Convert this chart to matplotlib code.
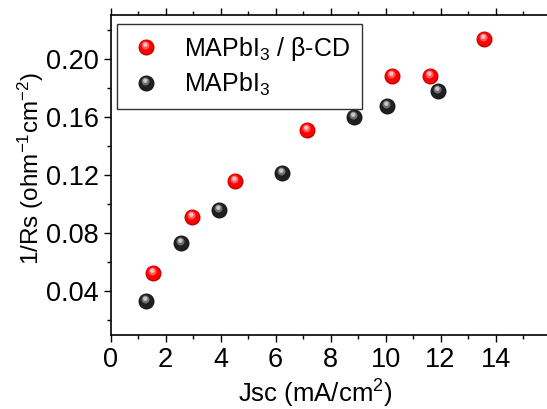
import numpy as np
import matplotlib.pyplot as plt
from matplotlib.path import Path
from matplotlib.markers import MarkerStyle
from matplotlib.legend_handler import HandlerTuple
from matplotlib.colors import to_rgb

plt.rcParams['font.family'] = ['Liberation Sans', 'DejaVu Sans']
plt.rcParams['mathtext.fontset'] = 'custom'
plt.rcParams['mathtext.rm'] = 'Liberation Sans'
plt.rcParams['mathtext.it'] = 'Liberation Sans'

# data
jsc_cd = [1.53, 2.97, 4.53, 7.15, 10.22, 11.60, 13.57]
inv_rs_cd = [0.0526, 0.0908, 0.1159, 0.1512, 0.1880, 0.1883, 0.2133]
jsc_ref = [1.27, 2.56, 3.93, 6.22, 8.86, 10.04, 11.89]
inv_rs_ref = [0.0331, 0.0729, 0.0959, 0.1214, 0.1598, 0.1671, 0.1775]

label_cd = r'MAPbI$_3$ / β-CD'
label_ref = r'MAPbI$_3$'


def circle_marker(cx, cy, r):
    # circle path with two invisible corner points so marker keeps its scale
    c = Path.circle((cx, cy), r)
    verts = np.vstack([[[-1, -1], [1, 1]], c.vertices])
    codes = np.concatenate([[Path.MOVETO, Path.MOVETO], c.codes])
    return MarkerStyle(Path(verts, codes))


def sphere_lines(x, y, color, ax, ms=11.5):
    # fake shaded sphere: stacked circles, lighter towards upper left
    base = np.array(to_rgb(color))
    layers = [
        (circle_marker(0, 0, 1.0), base * 0.75),
        (circle_marker(-0.04, 0.06, 0.88), base),
        (circle_marker(-0.12, 0.25, 0.5), base + (1 - base) * 0.35),
        (circle_marker(-0.15, 0.35, 0.28), base + (1 - base) * 0.75),
    ]
    out = []
    for m, c in layers:
        ln, = ax.plot(x, y, ls='none', marker=m, ms=ms, mfc=tuple(np.clip(c, 0, 1)),
                      mec='none')
        out.append(ln)
    return tuple(out)


fig = plt.figure(figsize=(5.47, 4.09), dpi=100)
ax = fig.add_axes([0.2024, 0.181, 0.804, 0.7824])

h_cd = sphere_lines(jsc_cd, inv_rs_cd, '#ff0000', ax)
h_ref = sphere_lines(jsc_ref, inv_rs_ref, '#202020', ax)

ax.set_xlim(0, 16)
ax.set_ylim(0.01, 0.23)
ax.set_xticks(np.arange(0, 15, 2))
ax.set_xticks(np.arange(1, 16, 2), minor=True)
ax.set_yticks([0.04, 0.08, 0.12, 0.16, 0.20])
ax.set_yticklabels(['0.04', '0.08', '0.12', '0.16', '0.20'])
ax.set_yticks([0.02, 0.06, 0.10, 0.14, 0.18, 0.22], minor=True)
ax.tick_params(axis='both', which='both', direction='out', labelsize=19.5,
               top=True, width=1)
ax.tick_params(which='major', length=5)
ax.tick_params(which='minor', length=3)
ax.spines['right'].set_visible(False)
for s in ['left', 'bottom', 'top']:
    ax.spines[s].set_linewidth(1.2)

ax.set_xlabel('Jsc (mA/cm$^2$)', fontsize=18.5)
ax.xaxis.set_label_coords(0.465, -0.133)
ax.set_ylabel('1/Rs (ohm$^{-1}$cm$^{-2}$)', fontsize=17.5)
ax.yaxis.set_label_coords(-0.148, 0.52)

leg = ax.legend([h_cd, h_ref], [label_cd, label_ref],
                handler_map={tuple: HandlerTuple(ndivide=1, pad=0)},
                loc='upper left', bbox_to_anchor=(0.014, 0.972), borderaxespad=0,
                fontsize=18, frameon=True, fancybox=False, edgecolor='#333333',
                framealpha=1, handletextpad=0.85, borderpad=0.45, labelspacing=0.3,
                handlelength=1.4)
leg.get_frame().set_linewidth(1.0)

fig.savefig('out.png', dpi=100)
